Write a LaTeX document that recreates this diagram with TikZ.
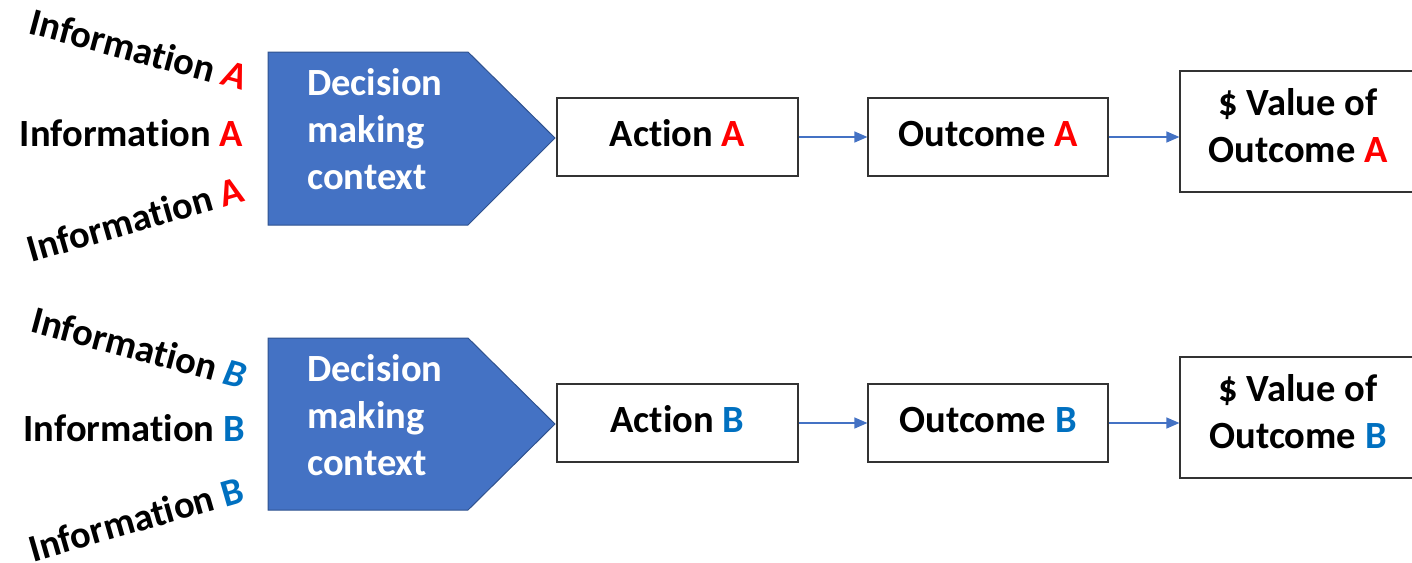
\documentclass[tikz,border=0pt]{standalone}
\usepackage{fontspec}
\setmainfont{Carlito}[Ligatures=NoCommon]
\usetikzlibrary{arrows.meta}
\definecolor{ctxblue}{HTML}{4472C4}
\definecolor{ctxedge}{HTML}{2F528F}
\definecolor{infored}{HTML}{FF0000}
\definecolor{infoblue}{HTML}{0070C0}
\tikzset{
  txt/.style={font=\bfseries\fontsize{38.5}{47}\selectfont, inner sep=0pt},
  stagebox/.style={draw=black!80, line width=1.2pt, fill=white, inner sep=0pt,
    font=\bfseries\fontsize{38.5}{47}\selectfont, align=center},
  onebox/.style={stagebox, text height=26pt, text depth=8pt,
    minimum height=78pt},
  valbox/.style={stagebox, text depth=12pt, minimum width=236pt,
    minimum height=121pt},
  ctx/.style={fill=ctxblue, draw=ctxedge, line width=1pt},
  flow/.style={draw=ctxblue, line width=1.2pt, -{Triangle[length=13pt,width=11pt]}},
}
\begin{document}
\begin{tikzpicture}[x=1pt,y=-1pt]
\useasboundingbox (0,0) rectangle (1412,562);

% ---------- scenario A ----------
\path[ctx] (268,52) -- (468,52) -- (555,138) -- (468,225) -- (268,225) -- cycle;
\node[txt, text=white, align=left, anchor=base west] (ctxA) at (307,189)
  {Decision\\making\\context};

\node[txt, anchor=base east, rotate=-15] (infoA1) at (243,91)
  {Information \textcolor{infored}{\itshape A}};
\node[txt, anchor=base east] (infoA2) at (243,146)
  {Information \textcolor{infored}{A}};
\node[txt, anchor=base east, rotate=16] (infoA3) at (246,201)
  {Information \textcolor{infored}{A}};

\node[onebox, minimum width=241pt] (actA) at (677.5,137)
  {Action \textcolor{infored}{A}};
\node[onebox, minimum width=240pt] (outA) at (988,137)
  {Outcome \textcolor{infored}{A}};
\node[valbox] (valA) at (1298,131.5)
  {\$ Value of\\Outcome \textcolor{infored}{A}};

\draw[flow] (actA.east) -- (outA.west);
\draw[flow] (outA.east) -- (outA.east -| valA.west);

% ---------- scenario B ----------
\path[ctx] (268,338) -- (468,338) -- (555,424) -- (468,510) -- (268,510) -- cycle;
\node[txt, text=white, align=left, anchor=base west] (ctxB) at (307,475)
  {Decision\\making\\context};

\node[txt, anchor=base east, rotate=-15] (infoB1) at (243,389)
  {Information \textcolor{infoblue}{\itshape B}};
\node[txt, anchor=base east] (infoB2) at (245,441)
  {Information \textcolor{infoblue}{B}};
\node[txt, anchor=base east, rotate=16] (infoB3) at (246,501)
  {Information \textcolor{infoblue}{B}};

\node[onebox, minimum width=241pt] (actB) at (677.5,423)
  {Action \textcolor{infoblue}{B}};
\node[onebox, minimum width=240pt] (outB) at (988,423)
  {Outcome \textcolor{infoblue}{B}};
\node[valbox] (valB) at (1298,417.5)
  {\$ Value of\\Outcome \textcolor{infoblue}{B}};

\draw[flow] (actB.east) -- (outB.west);
\draw[flow] (outB.east) -- (outB.east -| valB.west);
\end{tikzpicture}
\end{document}
